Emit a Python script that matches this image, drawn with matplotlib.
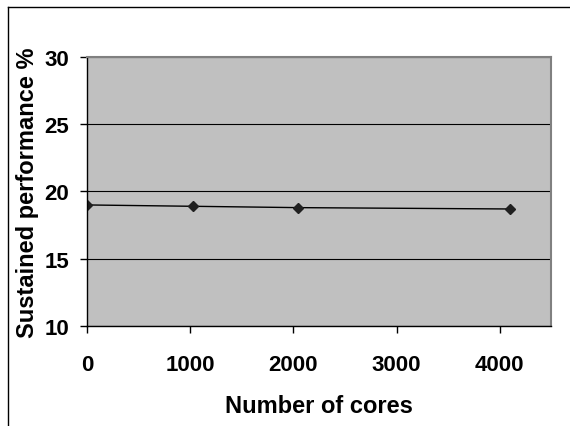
import matplotlib
matplotlib.use('Agg')
import matplotlib.pyplot as plt
from matplotlib.lines import Line2D

# Data
cores = [1, 1024, 2048, 4096]
performance = [19.0, 18.9, 18.8, 18.7]
x_ticks = [0, 1000, 2000, 3000, 4000]
y_ticks = [10, 15, 20, 25, 30]

plt.rcParams['font.family'] = ['Liberation Sans', 'DejaVu Sans']
plt.rcParams['font.weight'] = 'bold'

fig = plt.figure(figsize=(5.7, 4.27), dpi=100)
ax = fig.add_axes([0.1526, 0.2342, 0.8149, 0.63])

# Excel-like grey plot area
ax.set_facecolor('#c0c0c0')
ax.plot(cores, performance, color='black', linewidth=1,
        marker='D', markersize=5, markerfacecolor='#202020', markeredgecolor='#202020')

ax.set_xlim(0, 4500)
ax.set_ylim(10, 30)
ax.set_xticks(x_ticks)
ax.set_yticks(y_ticks)
ax.tick_params(direction='out', length=5, width=1, labelsize=16)
ax.tick_params(axis='x', pad=15)
ax.tick_params(axis='y', pad=8)
ax.yaxis.grid(True, color='black', linewidth=0.8)
ax.set_axisbelow(True)

for side in ['top', 'right']:
    ax.spines[side].set_color('#808080')
    ax.spines[side].set_linewidth(1.5)
for side in ['left', 'bottom']:
    ax.spines[side].set_color('black')
    ax.spines[side].set_linewidth(1)

ax.set_xlabel('Number of cores', fontsize=17, fontweight='bold', labelpad=14)
ax.set_ylabel('Sustained performance %', fontsize=17, fontweight='bold', labelpad=4)

# outer chart border (only top and left are visible in the crop)
fig.add_artist(Line2D([7.5 / 570, 1.0], [1 - 7.5 / 427, 1 - 7.5 / 427],
                      transform=fig.transFigure, color='black', linewidth=1))
fig.add_artist(Line2D([7.5 / 570, 7.5 / 570], [0.0, 1 - 7.5 / 427],
                      transform=fig.transFigure, color='black', linewidth=1))

fig.savefig('out.png', dpi=100)
